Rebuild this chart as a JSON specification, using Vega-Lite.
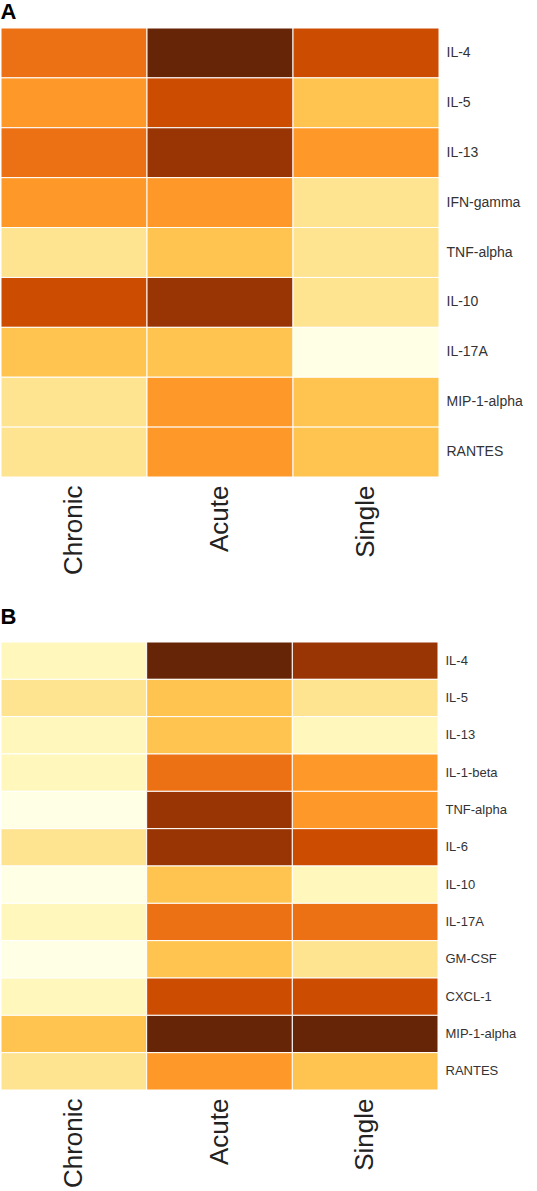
{
  "$schema": "https://vega.github.io/schema/vega-lite/v6.json",
  "padding": {"left": 0, "top": 0, "right": 0, "bottom": 0},
  "background": "white",
  "config": {
    "font": "Liberation Sans",
    "view": {"stroke": null},
    "concat": {"spacing": 30},
    "title": {"font": "Liberation Sans", "fontWeight": "bold", "fontSize": 22, "anchor": "start", "color": "#000", "offset": 4}
  },
  "datasets": {
    "A": [
      {"cytokine": "IL-4", "group": "Chronic", "level": 6}, {"cytokine": "IL-4", "group": "Acute", "level": 9}, {"cytokine": "IL-4", "group": "Single", "level": 7},
      {"cytokine": "IL-5", "group": "Chronic", "level": 5}, {"cytokine": "IL-5", "group": "Acute", "level": 7}, {"cytokine": "IL-5", "group": "Single", "level": 4},
      {"cytokine": "IL-13", "group": "Chronic", "level": 6}, {"cytokine": "IL-13", "group": "Acute", "level": 8}, {"cytokine": "IL-13", "group": "Single", "level": 5},
      {"cytokine": "IFN-gamma", "group": "Chronic", "level": 5}, {"cytokine": "IFN-gamma", "group": "Acute", "level": 5}, {"cytokine": "IFN-gamma", "group": "Single", "level": 3},
      {"cytokine": "TNF-alpha", "group": "Chronic", "level": 3}, {"cytokine": "TNF-alpha", "group": "Acute", "level": 4}, {"cytokine": "TNF-alpha", "group": "Single", "level": 3},
      {"cytokine": "IL-10", "group": "Chronic", "level": 7}, {"cytokine": "IL-10", "group": "Acute", "level": 8}, {"cytokine": "IL-10", "group": "Single", "level": 3},
      {"cytokine": "IL-17A", "group": "Chronic", "level": 4}, {"cytokine": "IL-17A", "group": "Acute", "level": 4}, {"cytokine": "IL-17A", "group": "Single", "level": 1},
      {"cytokine": "MIP-1-alpha", "group": "Chronic", "level": 3}, {"cytokine": "MIP-1-alpha", "group": "Acute", "level": 5}, {"cytokine": "MIP-1-alpha", "group": "Single", "level": 4},
      {"cytokine": "RANTES", "group": "Chronic", "level": 3}, {"cytokine": "RANTES", "group": "Acute", "level": 5}, {"cytokine": "RANTES", "group": "Single", "level": 4}
    ],
    "B": [
      {"cytokine": "IL-4", "group": "Chronic", "level": 2}, {"cytokine": "IL-4", "group": "Acute", "level": 9}, {"cytokine": "IL-4", "group": "Single", "level": 8},
      {"cytokine": "IL-5", "group": "Chronic", "level": 3}, {"cytokine": "IL-5", "group": "Acute", "level": 4}, {"cytokine": "IL-5", "group": "Single", "level": 3},
      {"cytokine": "IL-13", "group": "Chronic", "level": 2}, {"cytokine": "IL-13", "group": "Acute", "level": 4}, {"cytokine": "IL-13", "group": "Single", "level": 2},
      {"cytokine": "IL-1-beta", "group": "Chronic", "level": 2}, {"cytokine": "IL-1-beta", "group": "Acute", "level": 6}, {"cytokine": "IL-1-beta", "group": "Single", "level": 5},
      {"cytokine": "TNF-alpha", "group": "Chronic", "level": 1}, {"cytokine": "TNF-alpha", "group": "Acute", "level": 8}, {"cytokine": "TNF-alpha", "group": "Single", "level": 5},
      {"cytokine": "IL-6", "group": "Chronic", "level": 3}, {"cytokine": "IL-6", "group": "Acute", "level": 8}, {"cytokine": "IL-6", "group": "Single", "level": 7},
      {"cytokine": "IL-10", "group": "Chronic", "level": 1}, {"cytokine": "IL-10", "group": "Acute", "level": 4}, {"cytokine": "IL-10", "group": "Single", "level": 2},
      {"cytokine": "IL-17A", "group": "Chronic", "level": 2}, {"cytokine": "IL-17A", "group": "Acute", "level": 6}, {"cytokine": "IL-17A", "group": "Single", "level": 6},
      {"cytokine": "GM-CSF", "group": "Chronic", "level": 1}, {"cytokine": "GM-CSF", "group": "Acute", "level": 4}, {"cytokine": "GM-CSF", "group": "Single", "level": 3},
      {"cytokine": "CXCL-1", "group": "Chronic", "level": 2}, {"cytokine": "CXCL-1", "group": "Acute", "level": 7}, {"cytokine": "CXCL-1", "group": "Single", "level": 7},
      {"cytokine": "MIP-1-alpha", "group": "Chronic", "level": 4}, {"cytokine": "MIP-1-alpha", "group": "Acute", "level": 9}, {"cytokine": "MIP-1-alpha", "group": "Single", "level": 9},
      {"cytokine": "RANTES", "group": "Chronic", "level": 3}, {"cytokine": "RANTES", "group": "Acute", "level": 5}, {"cytokine": "RANTES", "group": "Single", "level": 4}
    ]
  },
  "vconcat": [
    {
      "title": "A",
      "data": {"name": "A"},
      "width": 438,
      "height": 449,
      "mark": {"type": "rect", "stroke": "white", "strokeWidth": 1},
      "encoding": {
        "x": {"field": "group", "type": "nominal", "sort": ["Chronic", "Acute", "Single"], "scale": {"paddingInner": 0, "paddingOuter": 0},
          "axis": {"title": null, "orient": "bottom", "labelAngle": -90, "labelFontSize": 26, "labelColor": "#222", "labelPadding": 8, "ticks": false, "domain": false}},
        "y": {"field": "cytokine", "type": "nominal", "sort": null, "scale": {"paddingInner": 0, "paddingOuter": 0},
          "axis": {"title": null, "orient": "right", "labelFontSize": 14, "labelColor": "#333", "labelPadding": 7, "ticks": false, "domain": false}},
        "color": {"field": "level", "type": "ordinal", "legend": null,
          "scale": {"domain": [1, 2, 3, 4, 5, 6, 7, 8, 9], "range": ["#ffffe5", "#fff7bc", "#fee391", "#fec44f", "#fe9929", "#ec7014", "#cc4c02", "#993404", "#662506"]}}
      }
    },
    {
      "title": {"text": "B", "offset": 13},
      "data": {"name": "B"},
      "width": 437,
      "height": 448,
      "mark": {"type": "rect", "stroke": "white", "strokeWidth": 1},
      "encoding": {
        "x": {"field": "group", "type": "nominal", "sort": ["Chronic", "Acute", "Single"], "scale": {"paddingInner": 0, "paddingOuter": 0},
          "axis": {"title": null, "orient": "bottom", "labelAngle": -90, "labelFontSize": 26, "labelColor": "#222", "labelPadding": 8, "ticks": false, "domain": false}},
        "y": {"field": "cytokine", "type": "nominal", "sort": null, "scale": {"paddingInner": 0, "paddingOuter": 0},
          "axis": {"title": null, "orient": "right", "labelFontSize": 13, "labelColor": "#333", "labelPadding": 7, "ticks": false, "domain": false}},
        "color": {"field": "level", "type": "ordinal", "legend": null,
          "scale": {"domain": [1, 2, 3, 4, 5, 6, 7, 8, 9], "range": ["#ffffe5", "#fff7bc", "#fee391", "#fec44f", "#fe9929", "#ec7014", "#cc4c02", "#993404", "#662506"]}}
      }
    }
  ]
}
